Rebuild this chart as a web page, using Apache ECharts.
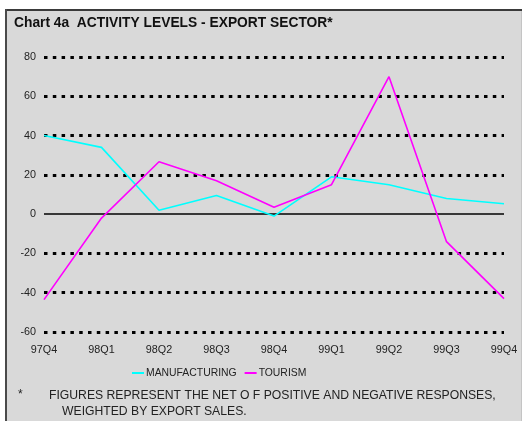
<!DOCTYPE html>
<html>
<head>
<meta charset="utf-8">
<script src="https://cdn.jsdelivr.net/npm/echarts@6/dist/echarts.min.js"></script>
<style>
  html, body { margin: 0; padding: 0; background: #ffffff; }
  #chart { width: 523px; height: 421px; }
</style>
</head>
<body>
<div id="chart"></div>
<script>
// Quarters on the horizontal axis
const quarters = ['97Q4', '98Q1', '98Q2', '98Q3', '98Q4', '99Q1', '99Q2', '99Q3', '99Q4'];

// Net balance of responses, per sector
const manufacturing = [40, 34, 2, 9.5, -1, 19, 15, 8, 5.3];
const tourism = [-43.5, -2, 26.7, 17, 3.5, 15, 70, -14, -43];

// Value axis range and dotted reference levels
const yMin = -60;
const yMax = 80;
const yStep = 20;
const dottedLevels = [-60, -40, -20, 20, 40, 60, 80];
const zeroLevel = 0;

const titleText = 'Chart 4a  ACTIVITY LEVELS - EXPORT SECTOR*';
const noteLine1 = 'FIGURES REPRESENT THE NET O F POSITIVE AND NEGATIVE RESPONSES,';
const noteLine2 = 'WEIGHTED BY EXPORT SALES.';

const FONT = '"Liberation Sans", Arial, sans-serif';

const chart = echarts.init(document.getElementById('chart'), null, { renderer: 'canvas' });

chart.setOption({
  backgroundColor: '#ffffff',
  animation: false,
  textStyle: { fontFamily: FONT },
  graphic: [
    // panel background and its frame
    { type: 'rect', z: -10, shape: { x: 5, y: 9, width: 517, height: 420 },
      style: { fill: '#d9d9d9' } },
    { type: 'line', z: -9, shape: { x1: 5, y1: 10, x2: 522, y2: 10 },
      style: { stroke: '#3a3a3a', lineWidth: 2 } },
    { type: 'line', z: -9, shape: { x1: 6, y1: 9, x2: 6, y2: 421 },
      style: { stroke: '#4a4a4a', lineWidth: 2 } },
    { type: 'line', z: -9, shape: { x1: 521.5, y1: 11, x2: 521.5, y2: 421 },
      style: { stroke: '#c4c4c4', lineWidth: 1 } },
    // heading
    { type: 'text', left: 14, top: 16,
      style: { text: titleText, font: 'bold 13.8px ' + FONT, fill: '#111111' } },
    // footnote
    { type: 'text', left: 18, top: 389,
      style: { text: '*', font: '12px ' + FONT, fill: '#222222' } },
    { type: 'text', left: 49, top: 390,
      style: { text: noteLine1, font: '12.2px ' + FONT, fill: '#222222' } },
    { type: 'text', left: 62, top: 406,
      style: { text: noteLine2, font: '12.2px ' + FONT, fill: '#222222' } }
  ],
  grid: { left: 44, right: 19, top: 57, bottom: 89, containLabel: false },
  legend: {
    left: 132,
    top: 368,
    icon: 'rect',
    itemWidth: 12,
    itemHeight: 2,
    itemGap: 8,
    padding: 0,
    textStyle: { fontSize: 10.4, color: '#222222', fontFamily: FONT, padding: [0, 0, 0, -3] },
    data: ['MANUFACTURING', 'TOURISM']
  },
  xAxis: {
    type: 'category',
    data: quarters,
    boundaryGap: false,
    axisLine: { show: false },
    axisTick: { show: false },
    splitLine: { show: false },
    axisLabel: { color: '#222222', fontSize: 10.8, margin: 13, fontFamily: FONT, interval: 0 }
  },
  yAxis: {
    type: 'value',
    min: yMin,
    max: yMax,
    interval: yStep,
    axisLine: { show: false },
    axisTick: { show: false },
    splitLine: { show: false },
    axisLabel: { color: '#222222', fontSize: 10.8, margin: 8, fontFamily: FONT }
  },
  series: [
    {
      name: 'MANUFACTURING',
      type: 'line',
      data: manufacturing,
      symbol: 'none',
      z: 3,
      lineStyle: { color: '#00ffff', width: 1.6 },
      itemStyle: { color: '#00ffff' },
      markLine: {
        silent: true,
        symbol: ['none', 'none'],
        z: 1,
        label: { show: false },
        animation: false,
        data: dottedLevels.map(v => ({
          yAxis: v,
          lineStyle: { color: '#000000', width: 3, type: [3.5, 5.3] }
        })).concat([{
          yAxis: zeroLevel,
          lineStyle: { color: '#000000', width: 1.6, type: 'solid' }
        }])
      }
    },
    {
      name: 'TOURISM',
      type: 'line',
      data: tourism,
      symbol: 'none',
      z: 4,
      lineStyle: { color: '#ff00ff', width: 1.6 },
      itemStyle: { color: '#ff00ff' }
    }
  ]
});
</script>
</body>
</html>
